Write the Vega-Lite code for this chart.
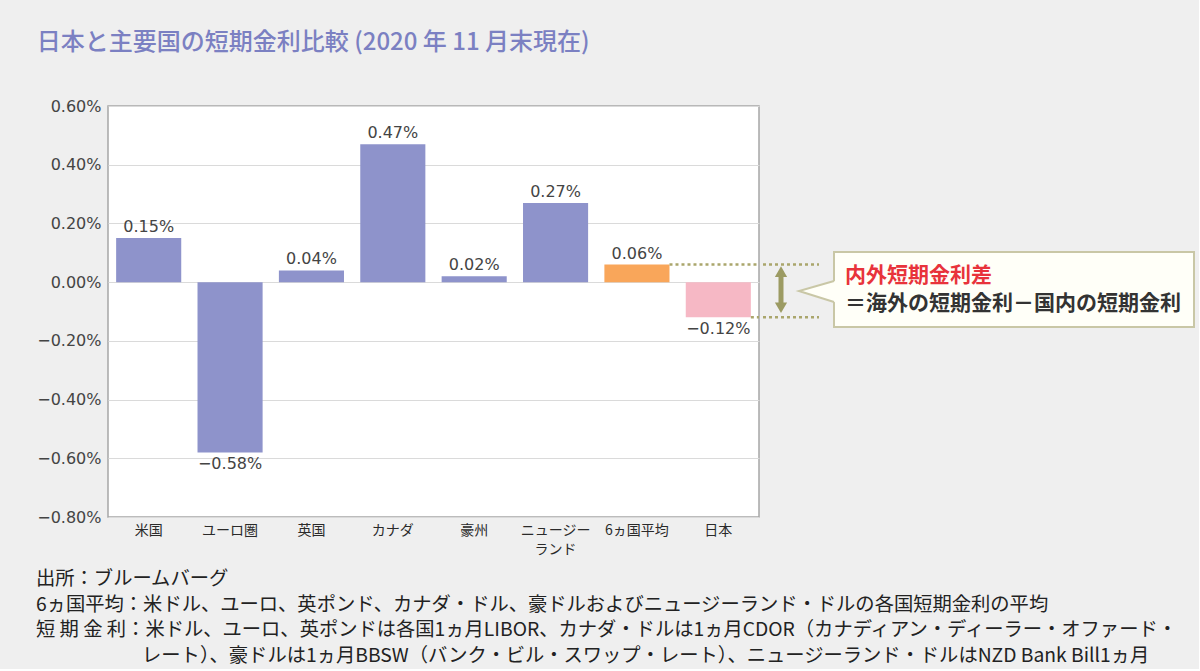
{
  "$schema": "https://vega.github.io/schema/vega-lite/v6.json",
  "background": "#efefef",
  "padding": {"left": 36, "top": 30, "right": 2, "bottom": 2},
  "title": {
    "text": [
      "出所：ブルームバーグ",
      "6ヵ国平均：米ドル、ユーロ、英ポンド、カナダ・ドル、豪ドルおよびニュージーランド・ドルの各国短期金利の平均",
      "短 期 金 利：米ドル、ユーロ、英ポンドは各国1ヵ月LIBOR、カナダ・ドルは1ヵ月CDOR（カナディアン・ディーラー・オファード・",
      "\u200b\u3000\u3000\u3000\u3000\u3000\u2002レート）、豪ドルは1ヵ月BBSW（バンク・ビル・スワップ・レート）、ニュージーランド・ドルはNZD Bank Bill1ヵ月"
    ],
    "orient": "bottom",
    "anchor": "start",
    "frame": "bounds",
    "align": "left",
    "font": "Noto Sans CJK JP",
    "fontSize": 19.3,
    "fontWeight": "normal",
    "lineHeight": 25.8,
    "color": "#222222",
    "offset": 13
  },
  "config": {"font": "Noto Sans CJK JP", "view": {"stroke": null}},
  "datasets": {
    "rates": [
      {"country": "米国", "rate": 0.0015, "group": "国"},
      {"country": "ユーロ圏", "rate": -0.0058, "group": "国"},
      {"country": "英国", "rate": 0.0004, "group": "国"},
      {"country": "カナダ", "rate": 0.0047, "group": "国"},
      {"country": "豪州", "rate": 0.0002, "group": "国"},
      {"country": "ニュージーランド", "rate": 0.0027, "group": "国"},
      {"country": "6ヵ国平均", "rate": 0.0006, "group": "平均"},
      {"country": "日本", "rate": -0.0012, "group": "日本"}
    ],
    "gap": [
      {"from": "6ヵ国平均", "to": "日本", "v": 0.0006},
      {"from": "日本", "to": "日本", "v": -0.0012}
    ],
    "gapRight": [
      {"x0": 0, "x1": 56, "v": 0.0006},
      {"x0": 0, "x1": 56, "v": -0.0012}
    ],
    "arrow": [{"x": 18, "top": 0.00036, "bottom": -0.00087}],
    "heads": [
      {"x": 18, "y": 0.00036, "dir": "up"},
      {"x": 18, "y": -0.00087, "dir": "down"}
    ],
    "box": [{"x0": 71, "x1": 431, "top": 0.001025, "bottom": -0.00153}],
    "pointerFill": [
      {"x": 36, "top": -0.000303, "bottom": -0.000303},
      {"x": 73, "top": 0.00005, "bottom": -0.00069}
    ],
    "pointer": [
      {"x": 71, "y": 0.0000375, "o": 1},
      {"x": 36, "y": -0.000303, "o": 2},
      {"x": 71, "y": -0.000678, "o": 3}
    ],
    "callout": [
      {"x": 82, "y": 0.000208, "text": "内外短期金利差", "kind": "head"},
      {"x": 82, "y": -0.000746, "text": "＝海外の短期金利－国内の短期金利", "kind": "body"}
    ]
  },
  "spacing": 0,
  "hconcat": [
    {
      "title": {
        "text": "日本と主要国の短期金利比較 (2020 年 11 月末現在)",
        "anchor": "start",
        "frame": "bounds",
        "font": "Noto Sans CJK JP",
        "fontSize": 24,
        "fontWeight": 500,
        "color": "#7b80c2",
        "offset": 43
      },
      "width": 651,
      "height": 411,
      "view": {"fill": "white", "stroke": "#a6a6a6", "strokeWidth": 1.5},
      "layer": [
        {
          "data": {"name": "rates"},
          "mark": {"type": "bar"},
          "encoding": {
            "x": {
              "field": "country",
              "type": "nominal",
              "sort": null,
              "scale": {
                "domain": ["米国", "ユーロ圏", "英国", "カナダ", "豪州", "ニュージーランド", "6ヵ国平均", "日本"],
                "paddingInner": 0.2,
                "paddingOuter": 0.1
              },
              "axis": {
                "title": null,
                "labelAngle": 0,
                "domain": false,
                "ticks": false,
                "labelPadding": 6,
                "labelFont": "Noto Sans CJK JP",
                "labelFontSize": 14,
                "labelColor": "#2a2a2a",
                "labelLineHeight": 19,
                "labelBaseline": "top",
                "labelExpr": "datum.label == 'ニュージーランド' ? ['ニュージー', 'ランド'] : datum.label"
              }
            },
            "y": {
              "field": "rate",
              "type": "quantitative",
              "scale": {"domain": [-0.008, 0.006], "nice": false},
              "axis": {
                "title": null,
                "values": [-0.008, -0.006, -0.004, -0.002, 0, 0.002, 0.004, 0.006],
                "format": ".2%",
                "grid": true,
                "gridColor": "#dadada",
                "gridWidth": 1,
                "domain": false,
                "ticks": false,
                "labelPadding": 7,
                "labelFont": "DejaVu Sans",
                "labelFontSize": 16,
                "labelColor": "#444444"
              }
            },
            "color": {
              "field": "group",
              "type": "nominal",
              "scale": {"domain": ["国", "平均", "日本"], "range": ["#8e93cb", "#f9a65a", "#f6b8c5"]},
              "legend": null
            }
          }
        },
        {
          "data": {"name": "rates"},
          "transform": [{"filter": "datum.rate >= 0"}],
          "mark": {"type": "text", "baseline": "bottom", "dy": -3, "font": "DejaVu Sans", "fontSize": 16, "color": "#444444"},
          "encoding": {
            "x": {"field": "country", "type": "nominal", "sort": null},
            "y": {"field": "rate", "type": "quantitative"},
            "text": {"field": "rate", "type": "quantitative", "format": ".2%"}
          }
        },
        {
          "data": {"name": "rates"},
          "transform": [{"filter": "datum.rate < 0"}],
          "mark": {"type": "text", "baseline": "top", "dy": 4, "font": "DejaVu Sans", "fontSize": 16, "color": "#444444"},
          "encoding": {
            "x": {"field": "country", "type": "nominal", "sort": null},
            "y": {"field": "rate", "type": "quantitative"},
            "text": {"field": "rate", "type": "quantitative", "format": ".2%"}
          }
        },
        {
          "data": {"name": "gap"},
          "mark": {"type": "rule", "color": "#aaa66c", "strokeWidth": 2.5, "strokeDash": [3, 3]},
          "encoding": {
            "x": {"field": "from", "type": "nominal", "sort": null, "bandPosition": 1},
            "x2": {"field": "to", "bandPosition": 1.125},
            "y": {"field": "v", "type": "quantitative"}
          }
        }
      ]
    },
    {
      "width": 434,
      "height": 411,
      "view": {"fill": null, "stroke": null},
      "layer": [
        {
          "data": {"name": "gapRight"},
          "mark": {"type": "rule", "color": "#aaa66c", "strokeWidth": 2.5, "strokeDash": [3, 3]},
          "encoding": {
            "x": {"field": "x0", "type": "quantitative", "scale": {"domain": [0, 434], "nice": false}, "axis": null},
            "x2": {"field": "x1"},
            "y": {"field": "v", "type": "quantitative", "scale": {"domain": [-0.008, 0.006], "nice": false}, "axis": null}
          }
        },
        {
          "data": {"name": "arrow"},
          "mark": {"type": "rule", "color": "#9c9b63", "strokeWidth": 5},
          "encoding": {
            "x": {"field": "x", "type": "quantitative"},
            "y": {"field": "top", "type": "quantitative"},
            "y2": {"field": "bottom"}
          }
        },
        {
          "data": {"name": "heads"},
          "mark": {"type": "point", "filled": true, "color": "#9c9b63", "opacity": 1, "size": 150},
          "encoding": {
            "x": {"field": "x", "type": "quantitative"},
            "y": {"field": "y", "type": "quantitative"},
            "shape": {"field": "dir", "type": "nominal", "scale": {"domain": ["up", "down"], "range": ["triangle-up", "triangle-down"]}, "legend": null}
          }
        },
        {
          "data": {"name": "box"},
          "mark": {"type": "rect", "fill": "#fffff8", "stroke": "#c9c7a6", "strokeWidth": 2},
          "encoding": {
            "x": {"field": "x0", "type": "quantitative"},
            "x2": {"field": "x1"},
            "y": {"field": "top", "type": "quantitative"},
            "y2": {"field": "bottom"}
          }
        },
        {
          "data": {"name": "pointerFill"},
          "mark": {"type": "area", "color": "#fffff8", "opacity": 1, "orient": "vertical"},
          "encoding": {
            "x": {"field": "x", "type": "quantitative"},
            "y": {"field": "top", "type": "quantitative"},
            "y2": {"field": "bottom"}
          }
        },
        {
          "data": {"name": "pointer"},
          "mark": {"type": "line", "color": "#c9c7a6", "strokeWidth": 2},
          "encoding": {
            "x": {"field": "x", "type": "quantitative"},
            "y": {"field": "y", "type": "quantitative"},
            "order": {"field": "o", "type": "quantitative"}
          }
        },
        {
          "data": {"name": "callout"},
          "transform": [{"filter": "datum.kind == 'head'"}],
          "mark": {"type": "text", "align": "left", "baseline": "middle", "font": "Noto Sans CJK JP", "fontSize": 21, "fontWeight": "bold", "color": "#e8333b"},
          "encoding": {
            "x": {"field": "x", "type": "quantitative"},
            "y": {"field": "y", "type": "quantitative"},
            "text": {"field": "text"}
          }
        },
        {
          "data": {"name": "callout"},
          "transform": [{"filter": "datum.kind == 'body'"}],
          "mark": {"type": "text", "align": "left", "baseline": "middle", "font": "Noto Sans CJK JP", "fontSize": 21, "fontWeight": "bold", "color": "#333333"},
          "encoding": {
            "x": {"field": "x", "type": "quantitative"},
            "y": {"field": "y", "type": "quantitative"},
            "text": {"field": "text"}
          }
        }
      ]
    }
  ]
}
